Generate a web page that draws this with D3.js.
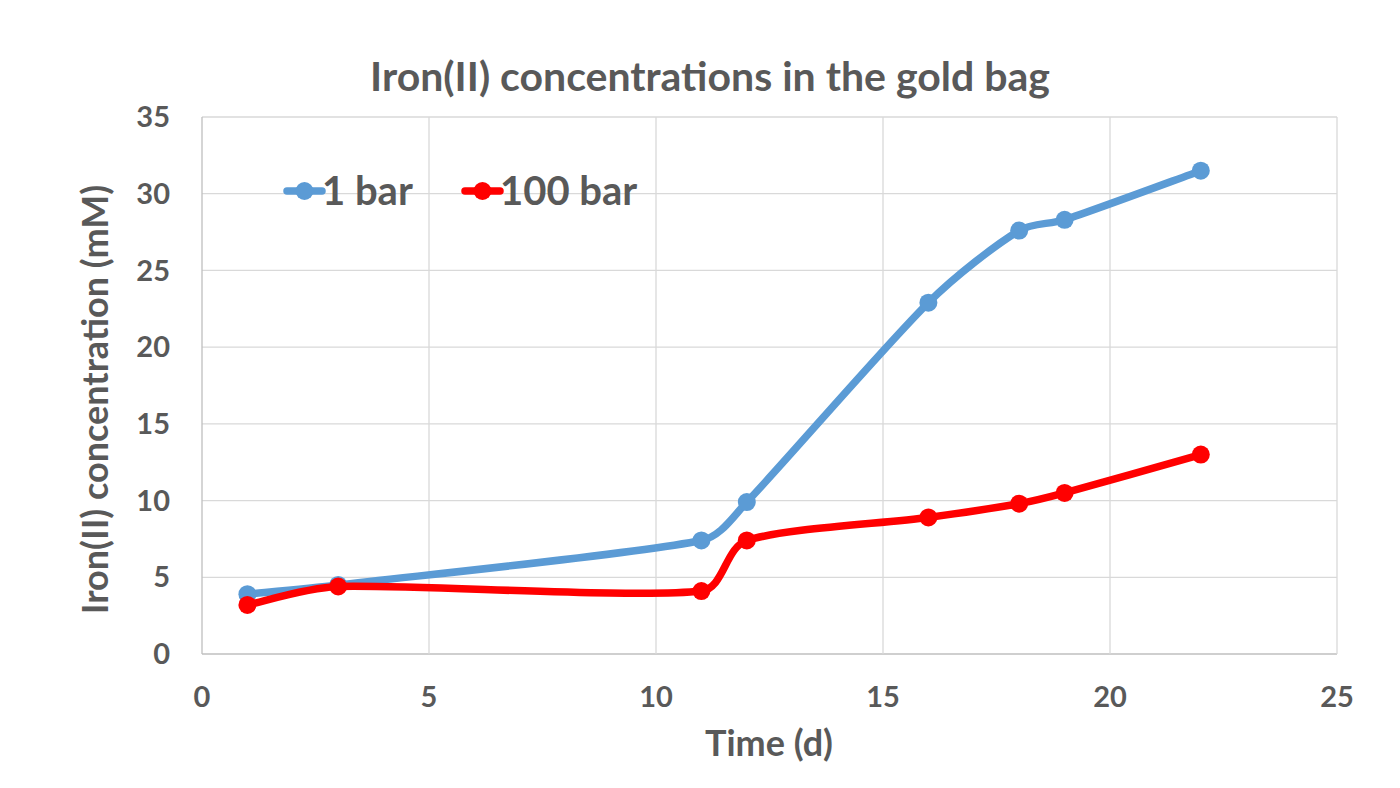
<!DOCTYPE html>
<html><head><meta charset="utf-8">
<script src="https://cdn.jsdelivr.net/npm/d3@7"></script>
<style>body{margin:0;background:#fff}text{font-family:Lato,"Open Sans",sans-serif;font-weight:bold;fill:#595959}</style>
</head><body>
<svg id="c" width="1400" height="788"></svg>
<script>
const days = [1, 3, 11, 12, 16, 18, 19, 22];
const bar1 = [3.9, 4.5, 7.4, 9.9, 22.9, 27.6, 28.3, 31.5];
const bar100 = [3.2, 4.4, 4.1, 7.4, 8.9, 9.8, 10.5, 13.0];
const seriesNames = ["1 bar", "100 bar"];
const seriesColors = ["#5b9bd5", "#ff0000"];
const xTicks = [0, 5, 10, 15, 20, 25];
const yTicks = [0, 5, 10, 15, 20, 25, 30, 35];

const svg = d3.select("#c");
const L = 202, R = 1337, T = 117, B = 654;
const x = d3.scaleLinear().domain([0, 25]).range([L, R]);
const y = d3.scaleLinear().domain([0, 35]).range([B, T]);

svg.append("g").selectAll("line").data(yTicks).join("line")
  .attr("x1", L).attr("x2", R).attr("y1", d => y(d)).attr("y2", d => y(d))
  .attr("stroke", d => d === 0 ? "#bfbfbf" : "#d9d9d9").attr("stroke-width", 1.3);
svg.append("g").selectAll("line").data(xTicks).join("line")
  .attr("y1", T).attr("y2", B).attr("x1", d => x(d)).attr("x2", d => x(d))
  .attr("stroke", d => d === 0 ? "#bfbfbf" : "#d9d9d9").attr("stroke-width", 1.3);

svg.append("g").selectAll("text").data(yTicks).join("text")
  .attr("x", L - 32).attr("y", d => y(d)).attr("dy", "0.35em").attr("text-anchor", "end")
  .style("font-size", "29px").text(d => d);
svg.append("g").selectAll("text").data(xTicks).join("text")
  .attr("x", d => x(d)).attr("y", B + 53).attr("text-anchor", "middle")
  .style("font-size", "29px").text(d => d);

svg.append("text").attr("x", 710).attr("y", 91).attr("text-anchor", "middle")
  .style("font-size", "41px").text("Iron(II) concentrations in the gold bag");
svg.append("text").attr("x", 769).attr("y", 756).attr("text-anchor", "middle")
  .style("font-size", "36px").text("Time (d)");
svg.append("text").attr("transform", "translate(108," + ((T + B) / 2 + 14) + ") rotate(-90)")
  .attr("text-anchor", "middle").style("font-size", "36px").text("Iron(II) concentration (mM)");

// Excel-like smoothed curve (cardinal handles, clamped to segment length)
function excelCurve(context) {
  let pts;
  return {
    areaStart() {}, areaEnd() {},
    lineStart() { pts = []; },
    point(px, py) { pts.push([+px, +py]); },
    lineEnd() {
      const n = pts.length;
      if (!n) return;
      context.moveTo(pts[0][0], pts[0][1]);
      if (n === 1) return;
      const hin = [], hout = [];
      for (let i = 0; i < n; i++) {
        const p = pts[i];
        const prev = pts[Math.max(0, i - 1)], next = pts[Math.min(n - 1, i + 1)];
        const dx = next[0] - prev[0], dy = next[1] - prev[1];
        const D = Math.hypot(dx, dy) || 1;
        const h = D / 6, ux = dx / D, uy = dy / D;
        const dIn = i > 0 ? Math.hypot(p[0] - prev[0], p[1] - prev[1]) : 0;
        const dOut = i < n - 1 ? Math.hypot(next[0] - p[0], next[1] - p[1]) : 0;
        const li = Math.min(h, dIn / 3), lo = Math.min(h, dOut / 3);
        hin[i] = [p[0] - ux * li, p[1] - uy * li];
        hout[i] = [p[0] + ux * lo, p[1] + uy * lo];
      }
      for (let i = 0; i < n - 1; i++)
        context.bezierCurveTo(hout[i][0], hout[i][1], hin[i + 1][0], hin[i + 1][1], pts[i + 1][0], pts[i + 1][1]);
    }
  };
}

const line = d3.line().x(d => x(d[0])).y(d => y(d[1])).curve(excelCurve);
[bar1, bar100].forEach((vals, i) => {
  const pts = days.map((d, j) => [d, vals[j]]);
  const g = svg.append("g");
  g.append("path").attr("d", line(pts)).attr("fill", "none")
    .attr("stroke", seriesColors[i]).attr("stroke-width", 7.5).attr("stroke-linecap", "round");
  g.selectAll("circle").data(pts).join("circle")
    .attr("cx", d => x(d[0])).attr("cy", d => y(d[1])).attr("r", 9).attr("fill", seriesColors[i]);
});

// legend
const legX = [287, 465];
seriesNames.forEach((n, i) => {
  const g = svg.append("g");
  g.append("line").attr("x1", legX[i]).attr("x2", legX[i] + 35).attr("y1", 191).attr("y2", 191)
    .attr("stroke", seriesColors[i]).attr("stroke-width", 7.5).attr("stroke-linecap", "round");
  g.append("circle").attr("cx", legX[i] + 17.5).attr("cy", 191).attr("r", 9).attr("fill", seriesColors[i]);
  g.append("text").attr("x", legX[i] + 35).attr("y", 191).attr("dy", "0.36em")
    .style("font-size", "40px").text(n);
});
</script>
</body></html>
